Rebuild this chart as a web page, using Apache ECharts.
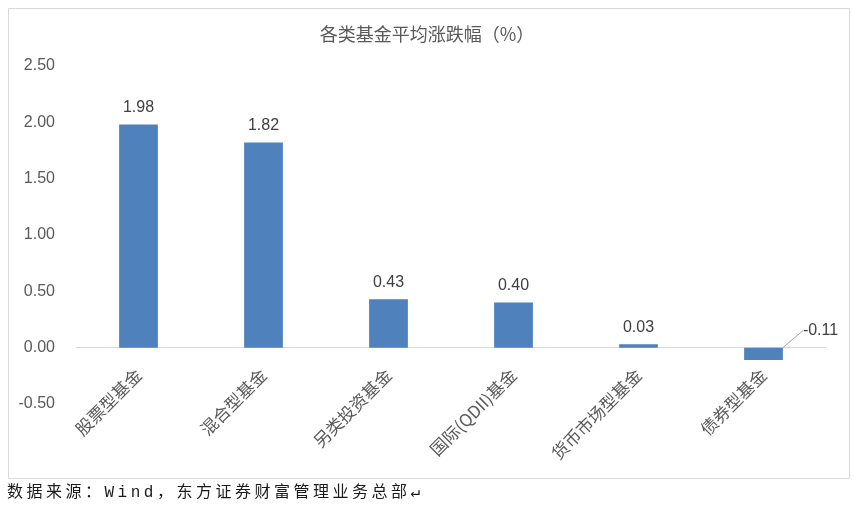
<!DOCTYPE html>
<html><head><meta charset="utf-8">
<script src="https://cdn.jsdelivr.net/npm/echarts@6/dist/echarts.min.js"></script>
<style>html,body{margin:0;padding:0;background:#fff;}#wrap{position:relative;width:854px;height:506px;}#c{width:854px;height:506px;}
#src{position:absolute;left:7px;top:483px;font-family:"Liberation Mono","Noto Sans CJK SC",monospace;font-size:16px;letter-spacing:3.5px;color:#1a1a1a;white-space:nowrap;line-height:20px;}</style>
</head><body><div id="wrap"><div id="c"></div><div id="src"></div></div>
<script>
var categories = ['股票型基金','混合型基金','另类投资基金','国际(QDII)基金','货币市场型基金','债券型基金'];
var values = [1.98, 1.82, 0.43, 0.40, 0.03, -0.11];
var yTicks = {min: -0.5, max: 2.5, interval: 0.5};
var titleText = '各类基金平均涨跌幅（%）';
var sourceText = '数据来源：Wind，东方证券财富管理业务总部↵';

document.getElementById('src').textContent = sourceText;

var seriesData = values.map(function (v) {
  return v < 0 ? {value: v, labelLine: {show: true}} : {value: v};
});

var chart = echarts.init(document.getElementById('c'));
chart.setOption({
  animation: false,
  backgroundColor: '#fff',
  title: {text: titleText, left: 'center', top: 20,
    textStyle: {fontFamily: 'Noto Sans CJK SC', fontSize: 18, fontWeight: 'normal', color: '#595959'}},
  graphic: [
    {type: 'rect', left: 6, top: 6, shape: {width: 841, height: 470}, style: {fill: 'none', stroke: '#D9D9D9', lineWidth: 1}, silent: true, z: -1}
  ],
  grid: {left: 76, right: 28, top: 66, bottom: 102, containLabel: false, outerBoundsMode: 'none'},
  xAxis: {type: 'category', data: categories,
    axisLine: {show: true, onZero: true, lineStyle: {color: '#D9D9D9', width: 1}}, axisTick: {show: false},
    axisLabel: {interval: 0, rotate: 45, margin: -32, fontFamily: 'Noto Sans CJK SC', fontSize: 17, color: '#595959'}},
  yAxis: {type: 'value', min: yTicks.min, max: yTicks.max, interval: yTicks.interval,
    splitLine: {show: false}, axisLine: {show: false}, axisTick: {show: false},
    axisLabel: {margin: 21, fontFamily: 'Liberation Sans', fontSize: 16, color: '#595959',
      formatter: function (v) { return v.toFixed(2); }}},
  series: [{
    type: 'bar', data: seriesData, barWidth: '31%',
    itemStyle: {color: '#4F81BD'},
    label: {show: true, position: 'top', distance: 9, fontFamily: 'Liberation Sans', fontSize: 16, color: '#404040',
      formatter: function (p) { return p.value.toFixed(2); }},
    labelLine: {show: false, lineStyle: {color: '#A6A6A6', width: 1}},
    labelLayout: function (p) {
      if (values[p.dataIndex] < 0) {
        return {x: p.rect.x + p.rect.width + 20, y: p.rect.y - 17, align: 'left', verticalAlign: 'middle'};
      }
      return {};
    }
  }]
});
</script></body></html>
